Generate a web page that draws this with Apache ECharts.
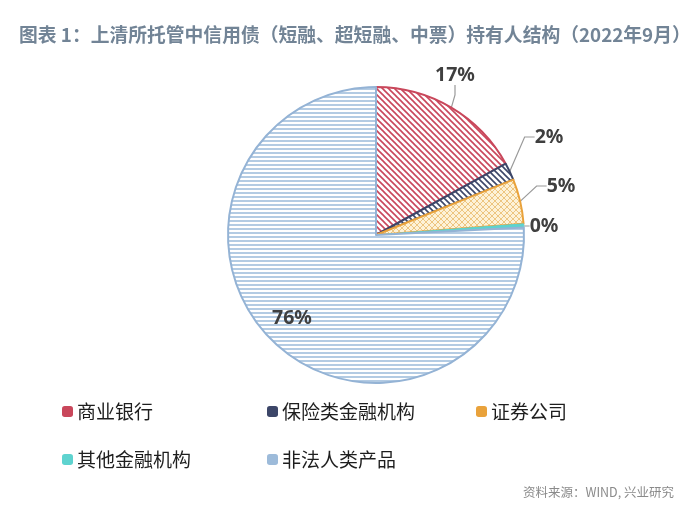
<!DOCTYPE html>
<html><head><meta charset="utf-8">
<script src="https://cdn.jsdelivr.net/npm/echarts@6/dist/echarts.min.js"></script>
<style>html,body{margin:0;padding:0;background:#fff}#c{width:700px;height:530px}</style>
</head><body><div id="c"></div>
<script>
const categories = ['商业银行','保险类金融机构','证券公司','其他金融机构','非法人类产品'];
const shares = [17.0, 1.9, 4.9, 0.4, 75.8];
const percentLabels = ['17%','2%','5%','0%','76%'];
const titleText = '图表 1：上清所托管中信用债（短融、超短融、中票）持有人结构（2022年9月）';
const sourceText = '资料来源：WIND, 兴业研究';

const mainColors = ['#C9475B','#3C4668','#E9A23B','#5ED3CF','#9DBBDA'];

function tile(size, draw){
  const c = document.createElement('canvas');
  c.width = size; c.height = size;
  const g = c.getContext('2d');
  draw(g, size);
  return c;
}
function diag(color, bg){
  return tile(6, (g,s)=>{
    g.fillStyle = bg; g.fillRect(0,0,s,s);
    g.strokeStyle = color; g.lineWidth = 1.6;
    for (let k=-1;k<=1;k++){
      g.beginPath(); g.moveTo(k*s-1, -1); g.lineTo(k*s+s+1, s+1); g.stroke();
    }
  });
}
function cross(color, bg){
  return tile(6, (g,s)=>{
    g.fillStyle = bg; g.fillRect(0,0,s,s);
    g.strokeStyle = color; g.lineWidth = 0.8;
    for (let k=-1;k<=1;k++){
      g.beginPath(); g.moveTo(k*s-1, -1); g.lineTo(k*s+s+1, s+1); g.stroke();
      g.beginPath(); g.moveTo(k*s-1, s+1); g.lineTo(k*s+s+1, -1); g.stroke();
    }
  });
}
function horiz(color, bg){
  return tile(4, (g,s)=>{
    g.fillStyle = bg; g.fillRect(0,0,s,s);
    g.fillStyle = color; g.fillRect(0,0,s,2);
  });
}
const fills = [
  {image: diag('#C9475B','#ffffff'), repeat:'repeat'},
  {image: diag('#3C4668','#ffffff'), repeat:'repeat'},
  {image: cross('#E9B96A','#FDF2D8'), repeat:'repeat'},
  '#5ED3CF',
  {image: horiz('#B3CBE3','#ffffff'), repeat:'repeat'}
];
const borders = ['#C9475B','#3C4668','#E9A23B','#5ED3CF','#94B3D5'];

const labelCenters = [[455,75],[549,137],[561,186],[544,226],[292,318]];

const chart = echarts.init(document.getElementById('c'));
const legendPos = [[57,397],[262,397],[471,397],[57,445],[262,445]];
const legends = categories.map((n,i)=>({
  data:[{name:n, itemStyle:{color:mainColors[i], borderWidth:0}}],
  left: legendPos[i][0], top: legendPos[i][1],
  icon:'roundRect', itemWidth:11, itemHeight:11, itemGap:5,
  textStyle:{fontFamily:'Noto Sans CJK SC', fontSize:19, color:'#1e1e1e', padding:[0,0,0,-1]},
  selectedMode:false
}));

chart.setOption({
  animation:false,
  title:[{text:titleText, left:14, top:20, textStyle:{fontFamily:'Noto Sans CJK SC', fontSize:18.8, fontWeight:'bold', color:'#728496'}},
         {text:sourceText, right:21, top:481, textStyle:{fontFamily:'Noto Sans CJK SC', fontSize:12.5, fontWeight:'normal', color:'#8a8a8a'}}],
  legend: legends,
  series:[{
    type:'pie',
    center:[376,235],
    radius:[0,148],
    startAngle:90,
    clockwise:true,
    avoidLabelOverlap:false,
    data: categories.map((n,i)=>({
      name:n, value:shares[i],
      itemStyle:{color:fills[i], borderColor:borders[i], borderWidth: i===3?1:2},
      label:{position: i===4?'inside':'outside'},
      labelLine:{show: i<4}
    })),
    label:{
      formatter:(p)=>percentLabels[p.dataIndex],
      fontFamily:'Noto Sans', fontWeight:'bold', fontSize:19.5, color:'#3f3f3f'
    },
    labelLine:{lineStyle:{color:'#9a9a9a', width:1.2}, length:12, length2:10},
    labelLayout:(p)=>{
      const c = labelCenters[p.dataIndex];
      return {x:c[0], y:c[1], align:'center', verticalAlign:'middle'};
    }
  }]
});
</script></body></html>
